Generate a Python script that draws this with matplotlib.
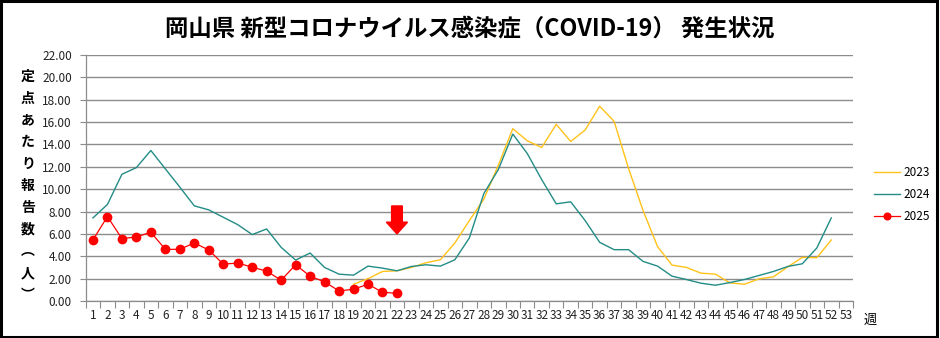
import matplotlib
matplotlib.use("Agg")
import matplotlib.pyplot as plt
from matplotlib.patches import Polygon, Rectangle
import numpy as np

plt.rcParams['font.family'] = ['Noto Sans CJK JP', 'DejaVu Sans']

weeks = list(range(1, 54))

# 2023: reporting begins in week 19
weeks_2023 = list(range(19, 53))
vals_2023 = [1.50, 2.00, 2.64, 2.70, 3.00, 3.42, 3.69, 5.19, 7.19, 9.11,
             12.14, 15.41, 14.33, 13.73, 15.80, 14.27, 15.29, 17.42, 16.07, 11.84,
             8.09, 4.86, 3.21, 3.00, 2.49, 2.40, 1.62, 1.50, 1.98, 2.16,
             3.06, 3.90, 3.87, 5.46]

weeks_2024 = list(range(1, 53))
vals_2024 = [7.43, 8.63, 11.33, 11.93, 13.46, 11.82, 10.19, 8.51, 8.15, 7.49,
             6.83, 5.94, 6.44, 4.80, 3.66, 4.29, 3.00, 2.40, 2.31, 3.12,
             2.94, 2.70, 3.09, 3.24, 3.12, 3.69, 5.64, 9.60, 11.75, 14.93,
             13.19, 10.85, 8.69, 8.87, 7.19, 5.25, 4.59, 4.59, 3.54, 3.12,
             2.22, 1.92, 1.59, 1.41, 1.65, 1.92, 2.28, 2.64, 3.09, 3.33,
             4.74, 7.43]

weeks_2025 = list(range(1, 23))
vals_2025 = [5.46, 7.55, 5.58, 5.73, 6.15, 4.62, 4.62, 5.19, 4.56, 3.30,
             3.39, 3.03, 2.67, 1.86, 3.24, 2.22, 1.71, 0.90, 1.05, 1.50,
             0.78, 0.69]

y_ticks = np.arange(0, 22.01, 2.0)

title = "岡山県 新型コロナウイルス感染症（COVID-19） 発生状況"
ylabel_chars = ["定", "点", "あ", "た", "り", "報", "告", "数", "︵", "人", "︶"]

c2023 = "#FFC21A"
c2024 = "#238C86"
c2025 = "#FF0000"
grid_c = "#8C8C8C"

W, H = 940, 338
fig = plt.figure(figsize=(W / 100, H / 100), dpi=100)
ax = fig.add_axes([85.7 / W, 1 - 301 / H, (853 - 85.7) / W, (301 - 55) / H])

ax.plot(weeks_2023, vals_2023, color=c2023, lw=1.0, label="2023", zorder=3)
ax.plot(weeks_2024, vals_2024, color=c2024, lw=1.0, label="2024", zorder=3)
ax.plot(weeks_2025, vals_2025, color=c2025, lw=0.9, marker="o", ms=6,
        mec=c2025, mfc=c2025, label="2025", zorder=4)

ax.set_xlim(0.5, 53.5)
ax.set_ylim(0, 22)
ax.set_yticks(y_ticks)
ax.set_yticklabels([f"{v:.2f}" for v in y_ticks], fontsize=8.5, color="#222222")
ax.set_xticks(weeks)
ax.set_xticklabels([str(w) for w in weeks], fontsize=8.5, color="#222222")
ax.set_xticks(np.arange(0.5, 54, 1.0), minor=True)
ax.tick_params(axis="x", which="major", length=0, pad=6)
ax.tick_params(axis="x", which="minor", length=5, width=0.8, color=grid_c, direction="out")
ax.tick_params(axis="y", which="major", length=4, width=0.8, color=grid_c, pad=6)
ax.yaxis.grid(True, color=grid_c, lw=1.0)
ax.set_axisbelow(True)
for s in ("top", "right"):
    ax.spines[s].set_visible(False)
for s in ("left", "bottom"):
    ax.spines[s].set_color(grid_c)
    ax.spines[s].set_linewidth(0.9)

# marker arrow pointing at the latest week
arrow_week = 22
arrow_top, arrow_neck, arrow_tip = 8.5, 7.05, 6.0
shaft_hw, head_hw = 0.37, 0.73
arrow = Polygon([
    (arrow_week - shaft_hw, arrow_top), (arrow_week + shaft_hw, arrow_top),
    (arrow_week + shaft_hw, arrow_neck), (arrow_week + head_hw, arrow_neck),
    (arrow_week, arrow_tip), (arrow_week - head_hw, arrow_neck),
    (arrow_week - shaft_hw, arrow_neck)], closed=True, color=c2025, zorder=5)
ax.add_patch(arrow)

fig.text(470 / W, 1 - 28 / H, title, ha="center", va="center",
         fontsize=16.8, fontweight="bold")

y0 = 77
for i, ch in enumerate(ylabel_chars):
    fig.text(28 / W, 1 - (y0 + i * 21.8) / H, ch, ha="center", va="center",
             fontsize=10, fontweight="bold")

fig.text(870 / W, 1 - 320 / H, "週", ha="center", va="center", fontsize=9.5)

fig.legend(loc="center left", bbox_to_anchor=(863 / W, 1 - 194.5 / H),
           frameon=False, fontsize=8.5, handlelength=2.2, labelspacing=0.78,
           handletextpad=0.3, markerscale=0.8)

fig.add_artist(Rectangle((0.001, 0.002), 0.996, 0.996, transform=fig.transFigure,
                         fill=False, ec="black", lw=2.2))

fig.savefig("out.png", dpi=100)
